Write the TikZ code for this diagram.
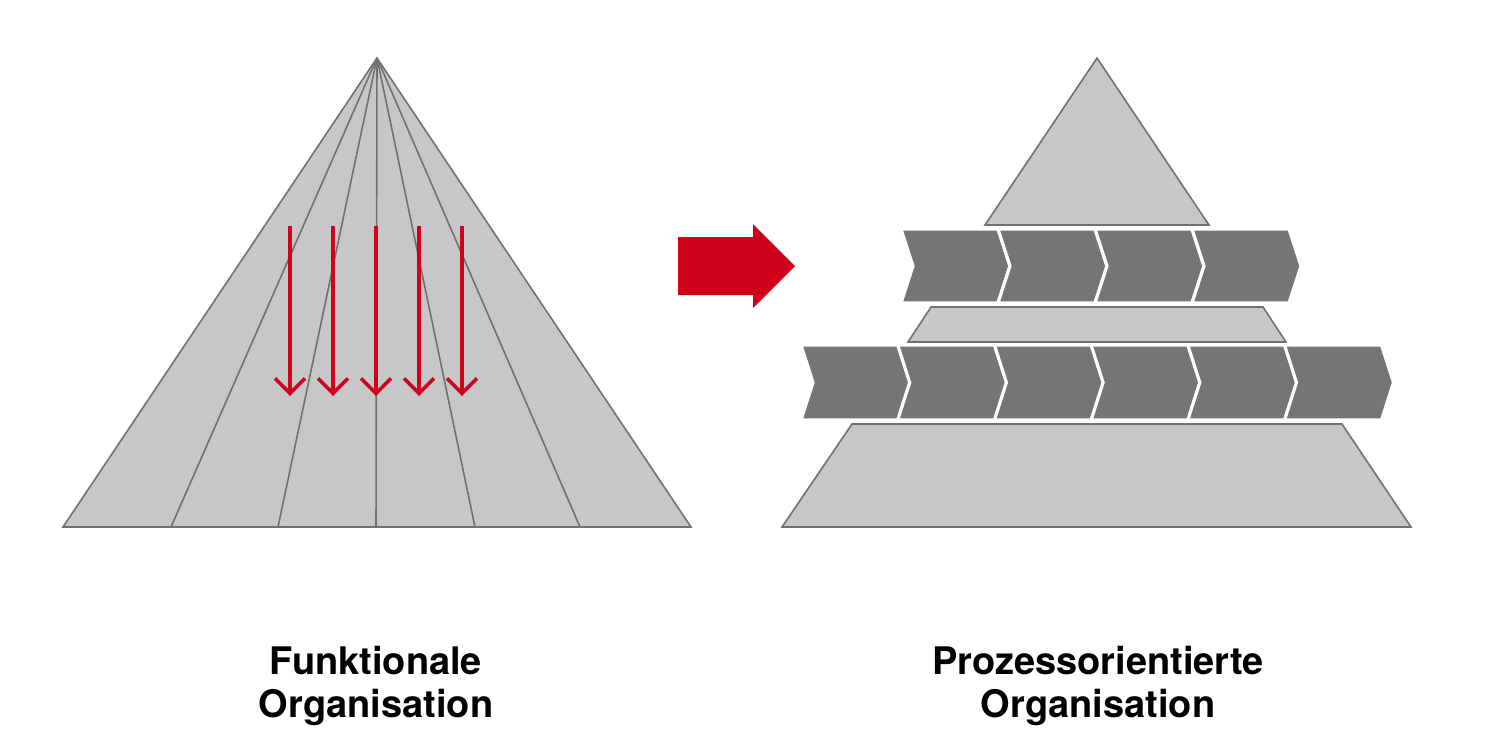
\documentclass[tikz,border=0pt]{standalone}
\usepackage{fontspec}
\setmainfont{TeX Gyre Heros}
\definecolor{PyramidFill}{RGB}{198,199,201}
\definecolor{PyramidLine}{RGB}{112,113,115}
\definecolor{ProcessFill}{RGB}{116,117,119}
\definecolor{FlowRed}{RGB}{208,2,27}
\usetikzlibrary{calc, arrows.meta}
\tikzset{
    pyramid part/.style={fill=PyramidFill, draw=PyramidLine, line width=0.45pt},
    flow arrow/.style={draw=FlowRed, line width=1pt, -{Straight Barb[length=4.3pt, width=8.5pt]}},
    process step/.style={fill=ProcessFill, draw=white, line width=0.9pt, line join=miter},
    caption/.style={font=\bfseries\fontsize{10.8}{12.4}\selectfont, align=center}
}
% Pfeilstück: Startpunkt x, oben y, unten y
\newcommand{\processstep}[3]{
    \path[process step] ({#1},#2) -- ({#1+97},#2) -- ({#1+109},{(#2+#3)/2}) -- ({#1+97},#3)
        -- ({#1},#3) -- ({#1+12},{(#2+#3)/2}) -- cycle;
}

\begin{document}
\begin{tikzpicture}[x=0.01cm, y=-0.01cm]
\useasboundingbox (0,0) rectangle (1490,741);

% Funktionale Pyramide
\coordinate (LTop) at (377,58);
\coordinate (LLeft) at (63,527);
\coordinate (LRight) at (691,527);
\path[pyramid part] (LTop) -- (LLeft) -- (LRight) -- cycle;
\foreach \x in {171,278,376,475,580}
    \draw[PyramidLine, line width=0.45pt] (LTop) -- (\x,527);

% Rote Pfeile nach unten
\foreach \x in {290,333,376,419,462}
    \draw[flow arrow] (\x,226) -- (\x,396);

% Großer Pfeil
\fill[FlowRed] (678,237) -- (753,237) -- (753,224) -- (795,266) -- (753,308) -- (753,295) -- (678,295) -- cycle;

% Prozessorientierte Pyramide (drei Teile)
\path[pyramid part] (1097,58) -- (985,225) -- (1209,225) -- cycle;
\path[pyramid part] (931,307) -- (1263,307) -- (1286,342) -- (908,342) -- cycle;
\path[pyramid part] (852,424) -- (1342,424) -- (1411,527) -- (782,527) -- cycle;

% Prozessketten
\foreach \i in {0,...,3}
    {\processstep{901+97*\i}{229}{303}}
\foreach \i in {0,...,5}
    {\processstep{801+96.7*\i}{345}{420}}

% Beschriftung
\node[caption] (funk) at (376,686) {Funktionale\\Organisation};
\node[caption] (proz) at (1098,686) {Prozessorientierte\\Organisation};

\end{tikzpicture}
\end{document}
